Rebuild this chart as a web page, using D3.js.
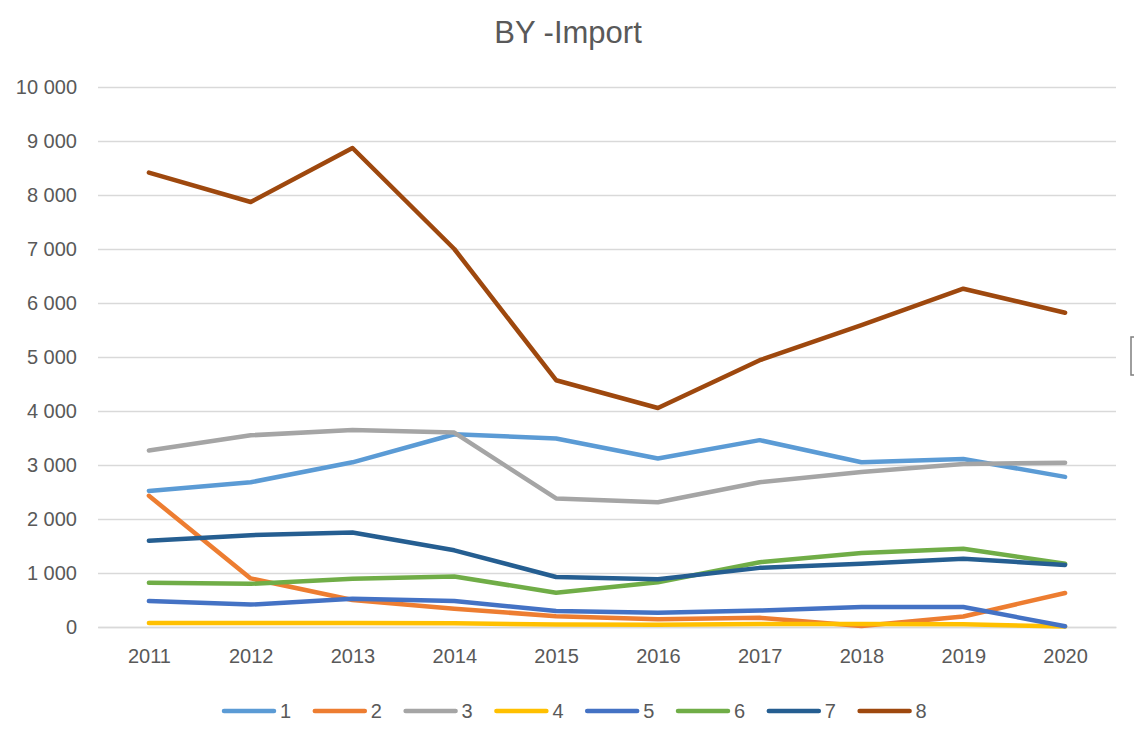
<!DOCTYPE html>
<html lang="en">
<head>
    <meta charset="UTF-8">
    <title>BY -Import</title>
    <style>
      body { margin: 0; background: #fff; }
      text { font-family: "Liberation Sans", Arial, sans-serif; fill: #595959; }
    </style>
</head>
<body>
  <svg id="svg" width="1134" height="744"></svg>

  <script src="https://d3js.org/d3.v7.min.js"></script>
  <script>
    // ------ DATA ------------------------
    const years = ['2011', '2012', '2013', '2014', '2015', '2016', '2017', '2018', '2019', '2020']
    const seriesNames = ['1', '2', '3', '4', '5', '6', '7', '8']
    const colors = ['#5B9BD5', '#ED7D31', '#A5A5A5', '#FFC000', '#4472C4', '#70AD47', '#255E91', '#9E480E']
    const s1 = [2520, 2680, 3050, 3570, 3490, 3120, 3460, 3050, 3110, 2780]
    const s2 = [2430, 900, 500, 340, 200, 145, 170, 20, 195, 630]
    const s3 = [3270, 3550, 3650, 3600, 2380, 2310, 2680, 2870, 3020, 3040]
    const s4 = [75, 75, 75, 70, 45, 40, 55, 55, 50, 10]
    const s5 = [480, 415, 525, 480, 295, 265, 305, 370, 370, 15]
    const s6 = [820, 800, 895, 935, 635, 830, 1200, 1370, 1450, 1170]
    const s7 = [1595, 1700, 1750, 1420, 925, 885, 1095, 1170, 1265, 1150]
    const s8 = [8415, 7870, 8870, 7000, 4570, 4055, 4940, 5590, 6265, 5820]
    const allSeries = [s1, s2, s3, s4, s5, s6, s7, s8]
    const yTicks = [0, 1000, 2000, 3000, 4000, 5000, 6000, 7000, 8000, 9000, 10000]

    // CONSTANTS
    const margin = { top: 87, right: 18, bottom: 117, left: 98 }
    const width = 1134 - (margin.left + margin.right)
    const height = 744 - (margin.top + margin.bottom)

    // ------ SCALES ------------------------
    const xscale = d3.scalePoint()
        .domain(years)
        .range([margin.left, margin.left + width])
        .padding(0.5)
    const yscale = d3.scaleLinear()
        .domain([0, 10000])
        .range([margin.top + height, margin.top])

    const svg = d3.select('#svg')

    // title
    svg.append('text')
        .attr('x', 568)
        .attr('y', 43)
        .attr('text-anchor', 'middle')
        .style('font-size', '31px')
        .text('BY -Import')

    // ------ AXES ------------------------
    const fmt = d => d3.format(',')(d).replace(/,/g, ' ')
    const leftAxis = d3.axisLeft(yscale)
        .tickValues(yTicks)
        .tickFormat(fmt)
        .tickSize(-width)
        .tickPadding(21)
    const gy = svg.append('g')
        .attr('transform', `translate(${margin.left}, 0)`)
        .call(leftAxis)
    gy.select('.domain').remove()
    gy.selectAll('line').attr('stroke', '#d9d9d9').attr('stroke-width', 1.5)
    gy.selectAll('text').style('font-size', '20px').style('fill', '#595959')

    const bottomAxis = d3.axisBottom(xscale).tickSize(0).tickPadding(22)
    const gx = svg.append('g')
        .attr('transform', `translate(0, ${margin.top + height})`)
        .call(bottomAxis)
    gx.select('.domain').attr('stroke', '#d9d9d9').attr('stroke-width', 1.5)
    gx.selectAll('text').style('font-size', '20px').style('fill', '#595959')

    // ------ LINES ------------------------
    const line = d3.line()
        .x((d, i) => xscale(years[i]))
        .y(d => yscale(d))

    svg.append('g')
        .selectAll('path')
        .data(allSeries)
        .enter()
        .append('path')
        .attr('d', d => line(d))
        .attr('fill', 'none')
        .attr('stroke', (d, i) => colors[i])
        .attr('stroke-width', 4.5)
        .attr('stroke-linejoin', 'round')
        .attr('stroke-linecap', 'round')

    // ------ LEGEND ------------------------
    const legend = svg.append('g')
        .selectAll('g')
        .data(seriesNames)
        .enter()
        .append('g')
        .attr('transform', (d, i) => `translate(${224 + i * 90.8}, 711)`)
    legend.append('line')
        .attr('x1', 0).attr('x2', 50)
        .attr('stroke', (d, i) => colors[i])
        .attr('stroke-width', 4.5)
        .attr('stroke-linecap', 'round')
    legend.append('text')
        .attr('x', 56)
        .attr('y', 7)
        .style('font-size', '20px')
        .text(d => d)

    // cropped selection handle at the right edge
    svg.append('rect')
        .attr('x', 1131).attr('y', 337)
        .attr('width', 6).attr('height', 38)
        .attr('fill', 'none')
        .attr('stroke', '#7f7f7f')
        .attr('stroke-width', 1.5)
  </script>
</body>
</html>
